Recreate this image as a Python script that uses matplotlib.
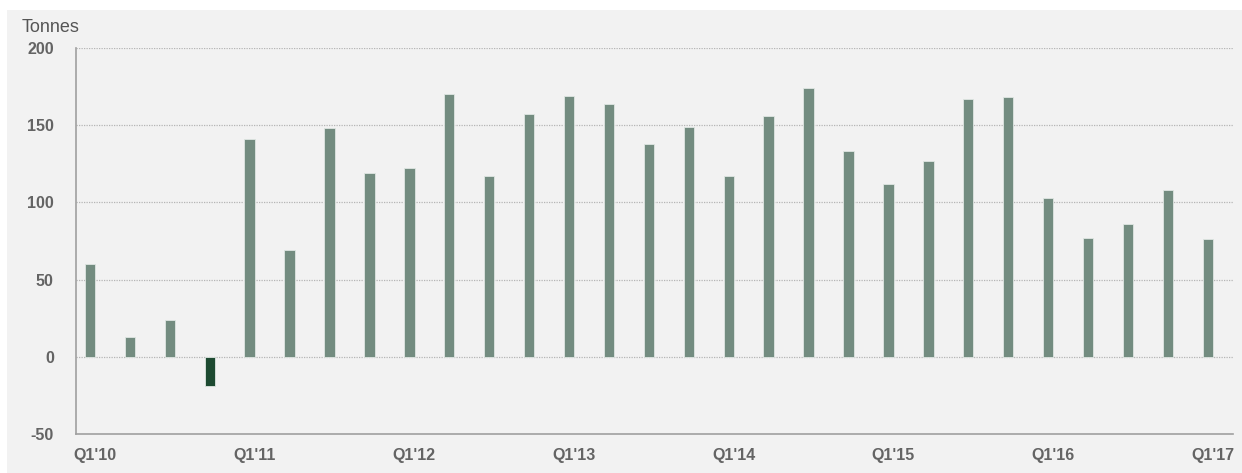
import matplotlib.pyplot as plt
from matplotlib.patches import Rectangle
from matplotlib.transforms import ScaledTranslation

quarters = ["Q1'10", "Q2'10", "Q3'10", "Q4'10",
            "Q1'11", "Q2'11", "Q3'11", "Q4'11",
            "Q1'12", "Q2'12", "Q3'12", "Q4'12",
            "Q1'13", "Q2'13", "Q3'13", "Q4'13",
            "Q1'14", "Q2'14", "Q3'14", "Q4'14",
            "Q1'15", "Q2'15", "Q3'15", "Q4'15",
            "Q1'16", "Q2'16", "Q3'16", "Q4'16",
            "Q1'17"]
tonnes = [60, 13, 24, -19,
          141, 69, 148, 119,
          122, 170, 117, 157,
          169, 164, 138, 149,
          117, 156, 174, 133,
          112, 127, 167, 168,
          103, 77, 86, 108,
          76]
tick_labels = ["Q1'10", "Q1'11", "Q1'12", "Q1'13", "Q1'14", "Q1'15", "Q1'16", "Q1'17"]
yticks = [-50, 0, 50, 100, 150, 200]

plt.rcParams['font.family'] = ['Liberation Sans', 'DejaVu Sans']

fig = plt.figure(figsize=(12.42, 4.73), dpi=100)
fig.patch.set_facecolor('white')
fig.add_artist(Rectangle((7 / 1242, 0), 1 - 7 / 1242, 1 - 10 / 473,
                         transform=fig.transFigure, facecolor='#f2f2f2',
                         edgecolor='none', zorder=0))

ax = fig.add_axes([76 / 1242, 1 - 434 / 473, (1233 - 76) / 1242, (434 - 48) / 473])
ax.set_facecolor('none')

x = list(range(len(quarters)))
colors = ['#1d4a31' if v < 0 else '#738c80' for v in tonnes]
ax.bar(x, tonnes, width=0.26, color=colors, edgecolor='#dfe6e2', linewidth=0.6, zorder=3)

ax.set_xlim(-0.35, 28.63)
ax.set_ylim(-50, 200)
ax.set_yticks(yticks)
ax.set_yticklabels([str(v) for v in yticks])
ax.set_xticks([quarters.index(t) for t in tick_labels])
ax.set_xticklabels(tick_labels)

for y in yticks[1:]:
    ax.axhline(y, color='#b5b5b5', linestyle=(0, (1, 1)), linewidth=0.9, zorder=1)

for s in ['top', 'right']:
    ax.spines[s].set_visible(False)
for s in ['left', 'bottom']:
    ax.spines[s].set_color('#a0a0a0')
    ax.spines[s].set_linewidth(1.2)

ax.tick_params(axis='both', length=0, labelsize=11.5)
ax.tick_params(axis='y', pad=16)
ax.tick_params(axis='x', pad=10)
shift = ScaledTranslation(5 / 100, 0, fig.dpi_scale_trans)
for lab in ax.get_xticklabels():
    lab.set_transform(lab.get_transform() + shift)
for lab in ax.get_xticklabels() + ax.get_yticklabels():
    lab.set_color('#646464')
    lab.set_fontweight('bold')

fig.text(22 / 1242, 1 - 28 / 473, 'Tonnes', fontsize=13, color='#555555', va='center', ha='left')

fig.savefig('out.png', dpi=100, facecolor=fig.get_facecolor())
